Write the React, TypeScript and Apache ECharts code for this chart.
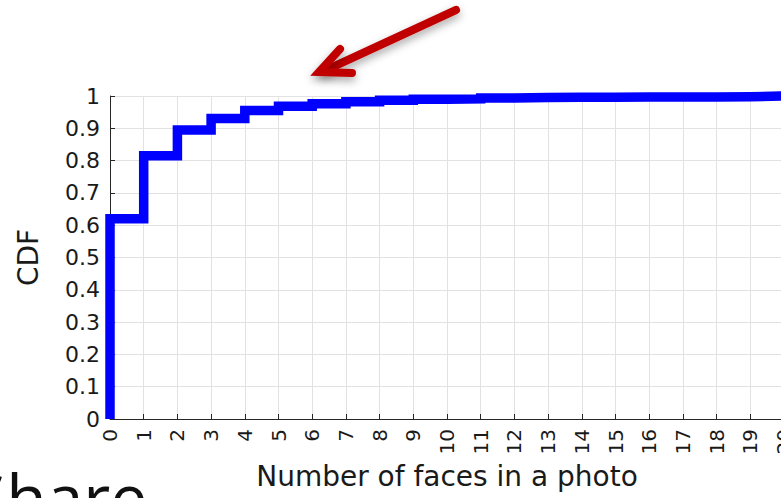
import React, { useEffect, useRef } from "react";
import * as echarts from "echarts";

// step positions (number of faces) and CDF values
const stepX: number[] = [0, 1, 2, 3, 4, 5, 6, 7, 8, 9, 10, 11, 12, 13, 14, 15, 16, 17, 18, 19];
const stepY: number[] = [0.62, 0.815, 0.895, 0.93, 0.955, 0.968, 0.976, 0.982, 0.987, 0.99, 0.991, 0.994, 0.995, 0.996, 0.996, 0.997, 0.997, 0.997, 0.998, 1.0];
const xMax = 20;
const xAxisTitle = "Number of faces in a photo";
const yAxisTitle = "CDF";
const slideText = "Share";

export default function App() {
  const ref = useRef<HTMLDivElement>(null);
  useEffect(() => {
    if (!ref.current) return;
    const chart = echarts.init(ref.current, null, { renderer: "svg" });
    const data: number[][] = [[0, 0]];
    stepX.forEach((x, i) => data.push([x, stepY[i]]));
    data.push([xMax, stepY[stepY.length - 1]]);
    const axisColor = "#262626";
    chart.setOption({
      animation: false,
      backgroundColor: "#ffffff",
      grid: {
        left: 110,
        top: 96,
        width: 674,
        height: 323,
        containLabel: false,
        outerBoundsMode: "none",
      },
      xAxis: {
        type: "value",
        min: 0,
        max: xMax,
        interval: 1,
        name: xAxisTitle,
        nameLocation: "middle",
        nameGap: 42,
        nameTextStyle: { fontFamily: "DejaVu Sans", fontSize: 28, color: "#1a1a1a" },
        axisLine: { show: true, onZero: false, lineStyle: { color: axisColor, width: 1 } },
        axisTick: { show: true, inside: true, length: 5, lineStyle: { color: axisColor } },
        axisLabel: { rotate: 90, margin: 10, fontFamily: "DejaVu Sans", fontSize: 20, color: "#1a1a1a", hideOverlap: false },
        splitLine: { show: true, lineStyle: { color: "#e2e2e2", width: 1 } },
      },
      yAxis: {
        type: "value",
        min: 0,
        max: 1,
        interval: 0.1,
        name: yAxisTitle,
        nameLocation: "middle",
        nameGap: 68,
        nameTextStyle: { fontFamily: "DejaVu Sans", fontSize: 28, color: "#1a1a1a" },
        axisLine: { show: true, lineStyle: { color: axisColor, width: 1 } },
        axisTick: { show: true, inside: true, length: 5, lineStyle: { color: axisColor } },
        axisLabel: {
          margin: 10,
          fontFamily: "DejaVu Sans",
          fontSize: 22,
          color: "#1a1a1a",
          formatter: (v: number) => String(Math.round(v * 10) / 10),
        },
        splitLine: { show: true, lineStyle: { color: "#e2e2e2", width: 1 } },
      },
      series: [
        {
          type: "line",
          step: "end",
          data,
          showSymbol: false,
          clip: false,
          lineStyle: { color: "#0000ff", width: 9.5, cap: "butt", join: "miter" },
          z: 3,
        },
      ],
      graphic: [
        {
          type: "polyline",
          shape: { points: [[456, 10], [324, 71]] },
          style: {
            stroke: "#c00000",
            lineWidth: 8,
            lineCap: "round",
            fill: "none",
            shadowColor: "rgba(0,0,0,0.35)",
            shadowBlur: 8,
            shadowOffsetY: 4,
          },
          z: 10,
        },
        {
          type: "polyline",
          shape: { points: [[340, 49], [319, 72], [352, 73]] },
          style: {
            stroke: "#c00000",
            lineWidth: 8,
            lineCap: "round",
            lineJoin: "miter",
            fill: "none",
            shadowColor: "rgba(0,0,0,0.35)",
            shadowBlur: 8,
            shadowOffsetY: 4,
          },
          z: 10,
        },
        {
          type: "text",
          x: -30,
          y: 496,
          style: {
            text: slideText,
            fontFamily: "Open Sans",
            fontSize: 66,
            fill: "#111111",
            verticalAlign: "middle",
          },
          z: 10,
        },
      ],
    });
    return () => chart.dispose();
  }, []);
  return (
    <div
      ref={ref}
      style={{ position: "absolute", left: 0, top: 0, width: 781, height: 498, background: "#fff", overflow: "hidden" }}
    />
  );
}
